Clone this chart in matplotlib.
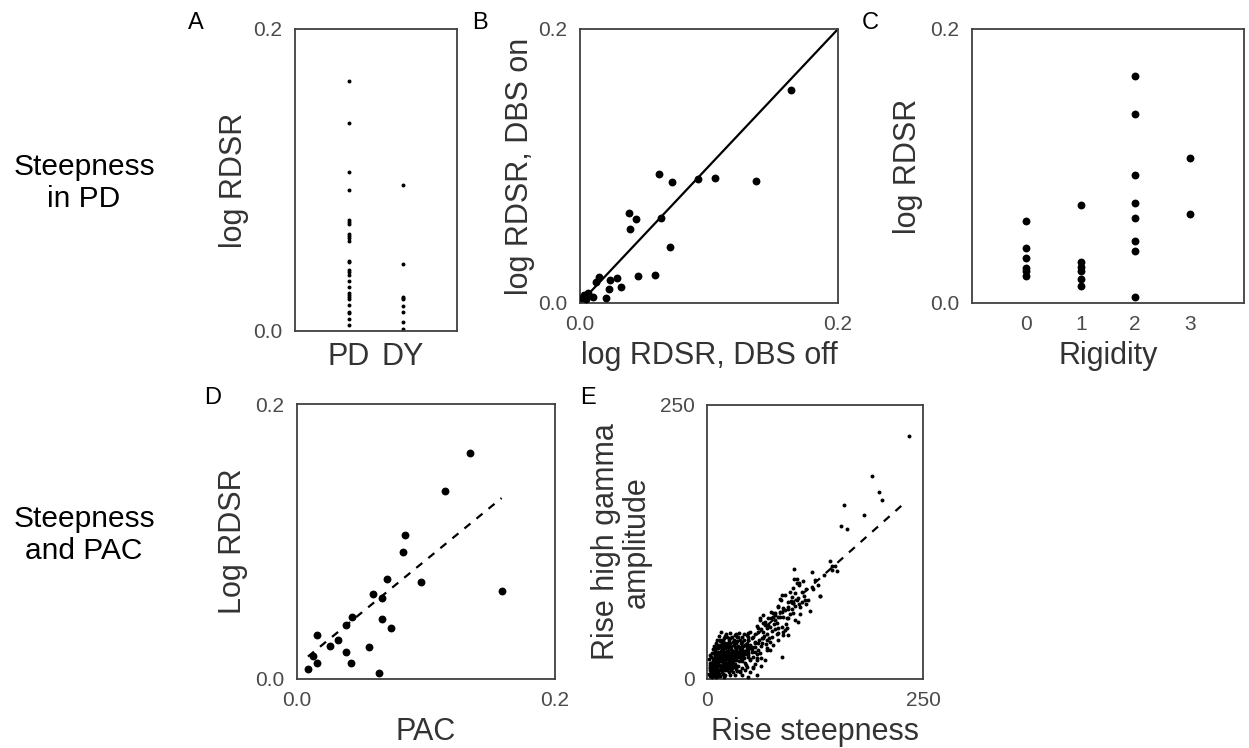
import numpy as np
import matplotlib.pyplot as plt

plt.rcParams['font.family'] = ['Liberation Sans', 'DejaVu Sans']

# ---- data ----
# A: log RDSR per group
a_pd = [0.1657, 0.1375, 0.1053, 0.0934, 0.0733, 0.0722, 0.0709, 0.0642, 0.0629,
        0.0614, 0.0598, 0.0464, 0.0457, 0.0404, 0.0389, 0.0371, 0.0331, 0.0291,
        0.0250, 0.0236, 0.0223, 0.0210, 0.0170, 0.0128, 0.0119, 0.0077, 0.0040]
a_dy = [0.0965, 0.0442, 0.0227, 0.0216, 0.0210, 0.0168, 0.0126, 0.0058, 0.0015]
a_groups = ['PD', 'DY']

# B: DBS off vs DBS on
b_off = [0.1638, 0.0613, 0.0717, 0.0918, 0.1050, 0.1366, 0.0378, 0.0437, 0.0391,
         0.0631, 0.0698, 0.0447, 0.0584, 0.0235, 0.0284, 0.0225, 0.0318, 0.0199,
         0.0147, 0.0122, 0.0103, 0.0064, 0.0033, 0.0015, 0.0045]
b_on = [0.1558, 0.0938, 0.0882, 0.0906, 0.0916, 0.0892, 0.0659, 0.0615, 0.0540,
        0.0617, 0.0407, 0.0197, 0.0207, 0.0168, 0.0182, 0.0100, 0.0115, 0.0034,
        0.0188, 0.0156, 0.0046, 0.0071, 0.0058, 0.0040, 0.0030]

# C: rigidity score vs log RDSR
c_rig = [0, 0, 0, 0, 0, 0,
         1, 1, 1, 1, 1, 1,
         2, 2, 2, 2, 2, 2, 2, 2,
         3, 3]
c_rdsr = [0.0601, 0.0404, 0.0326, 0.0258, 0.0233, 0.0200,
          0.0715, 0.0297, 0.0265, 0.0235, 0.0175, 0.0122,
          0.1657, 0.1379, 0.0933, 0.0733, 0.0621, 0.0456, 0.0380, 0.0046,
          0.1055, 0.0646]

# D: PAC vs log RDSR
d_pac = [0.1338, 0.1146, 0.0841, 0.0818, 0.0699, 0.0960, 0.1591, 0.0590, 0.0657,
         0.0427, 0.0378, 0.0660, 0.0732, 0.0155, 0.0321, 0.0259, 0.0556, 0.0380,
         0.0124, 0.0158, 0.0417, 0.0085, 0.0639]
d_rdsr = [0.1646, 0.1369, 0.1046, 0.0925, 0.0726, 0.0704, 0.0638, 0.0617, 0.0592,
          0.0449, 0.0396, 0.0439, 0.0374, 0.0318, 0.0286, 0.0243, 0.0231, 0.0194,
          0.0165, 0.0119, 0.0119, 0.0075, 0.0041]
d_fit_x = [0.0085, 0.1586]
d_fit_y = [0.0163, 0.1316]

# E: rise steepness vs rise high gamma amplitude
e_points = [
    (234, 222), (190.6, 185.2), (199, 170.6), (202.5, 163), (158.6, 158.8),
    (181.3, 149.3), (155, 139.9), (162, 136.9), (148, 103), (145, 99.5),
    (121.9, 97.6), (131, 75.7), (142.3, 107.3), (144.3, 103.3), (150, 98.8),
    (100.7, 100.6), (103.8, 90.9), (106.9, 87.3), (123, 82), (99.9, 82.7),
    (96, 79.6), (130.7, 75.7), (117.2, 72), (109.6, 70.5), (103.8, 72),
    (99.9, 69.6), (96.8, 71.1), (86.4, 76.6), (84.5, 72.7), (119.2, 62.3),
    (107.6, 65.4), (101.8, 66.6), (94.1, 65.4), (90.2, 62.9), (84.5, 61.4),
    (78.7, 59.8), (76.7, 56.8), (82.5, 56.8), (88.3, 56.3), (94.1, 55.4),
    (107.6, 59.3), (101.8, 53.8), (80.6, 50.8), (86.4, 47.7), (92.2, 46.2),
    (88.3, 43.1), (82.5, 41.6), (94.1, 40.1), (87, 19.8),
    (101, 91.2), (103.7, 87.9), (106.8, 85.7), (114.2, 81.8), (121.1, 84.2),
    (109.5, 79.6), (101.8, 78.7), (98, 75.2), (104.9, 73.5), (113.4, 72),
    (106.4, 68), (99.9, 69), (93.3, 70.5), (90.3, 76.6), (85.6, 72),
    (82.5, 66.6), (88.3, 64.4), (94.1, 63.5), (99.9, 59.9), (105.7, 52.3),
    (92.2, 55.3), (84.5, 56.8), (76.7, 59.9), (78.7, 53.8), (71, 55.3),
    (65.2, 58.4), (61.3, 53.8), (67.1, 49.3), (72.9, 47.7), (82.5, 46.2),
    (90.3, 44.7), (88.3, 40.1), (80.6, 41.1), (74.8, 38.6), (69.1, 35.6),
    (63.3, 37.1), (59.4, 32.5), (55.5, 34), (51.7, 29.5), (47.8, 35.6),
    (46, 40.1), (49.8, 43.2), (59.4, 43.2), (65.2, 43.2), (47.8, 26.4),
    (55.5, 24.9), (61.3, 23.4), (67.1, 17.3), (57.5, 17.3), (49.8, 17.3),
    (46, 11.2), (53.6, 9.7), (69.1, 28), (72.9, 26.4), (76.7, 31),
    (82.5, 35.6), (81.8, 65.4), (86.4, 61.4), (78.7, 58.4), (74, 55.4),
    (61.3, 55.4), (65.2, 50.8), (59.4, 46.2), (69.1, 46.2), (47.8, 41.6),
    (53.6, 38.6), (65.2, 37.1), (72.9, 34), (55.5, 32.5), (69.1, 26.4),
    (34.4, 38.6), (15, 35.6), (24.7, 31), (40.1, 34), (45.9, 29.5),
    (51.7, 24.9), (59.4, 26.4), (47.8, 20.3), (57.5, 18.8), (44, 14.3),
    (53.6, 11.2), (38.2, 6.7), (47.8, 2.1), (58, 4), (62, 12),
    (3, 3), (5, 6), (6, 2), (7, 9), (8, 4), (9, 12), (10, 7), (10, 2),
    (11, 15), (12, 10), (12, 5), (13, 18), (14, 13), (14, 8), (15, 3),
    (15, 21), (16, 16), (16, 11), (17, 6), (17, 24), (18, 19), (18, 14),
    (19, 9), (19, 27), (20, 22), (20, 17), (21, 12), (21, 4), (22, 25),
    (22, 20), (23, 15), (23, 30), (24, 10), (24, 23), (25, 18), (25, 6),
    (26, 28), (26, 13), (27, 21), (27, 33), (28, 16), (28, 8), (29, 26),
    (30, 19), (30, 11), (31, 31), (31, 24), (32, 14), (32, 4), (33, 28),
    (33, 21), (34, 17), (35, 35), (35, 25), (36, 12), (36, 30), (37, 20),
    (38, 27), (38, 7), (39, 33), (40, 23), (40, 16), (42, 30), (42, 20),
    (43, 36), (44, 26), (45, 13), (46, 32), (47, 22), (48, 38), (49, 28),
    (50, 18), (4, 10), (6, 14), (8, 17), (5, 20), (9, 22), (11, 25),
    (7, 27), (13, 28), (15, 31), (10, 33), (17, 34), (12, 36), (20, 37),
    (14, 39), (22, 41), (16, 43), (6, 7), (8, 11), (11, 9), (13, 14),
    (15, 12), (17, 16), (19, 13), (20, 20), (22, 18), (24, 22), (26, 20),
    (28, 24), (30, 22), (12, 20), (14, 24), (16, 26), (18, 22), (20, 30),
    (24, 26), (26, 32), (28, 30), (30, 34), (34, 33), (36, 38), (38, 36),
    (9, 5), (7, 3), (11, 3), (14, 5), (19, 5), (23, 8), (27, 4), (29, 10),
    (33, 9), (35, 7), (41, 10), (44, 8), (4, 4), (6, 5), (8, 7), (10, 10),
    (12, 13), (14, 16), (16, 19), (18, 17), (20, 14), (22, 11), (24, 15),
    (26, 17), (18, 11), (16, 8), (13, 7), (21, 8), (25, 10), (29, 14),
    (31, 17), (34, 22), (37, 24), (39, 19), (41, 27), (44, 31), (18, 28),
    (21, 33), (25, 36), (29, 38), (32, 40), (10, 18), (8, 24), (5, 15),
    (3, 8), (4, 13), (7, 19), (11, 29), (19, 32), (23, 38), (27, 42),
    # second pass over the dense core
    (2, 5), (3, 11), (5, 9), (6, 11), (7, 13), (7, 16), (9, 15), (9, 19),
    (10, 14), (10, 21), (11, 18), (12, 16), (12, 23), (13, 21), (13, 25),
    (14, 19), (14, 29), (15, 16), (15, 24), (16, 22), (16, 29), (17, 19),
    (17, 27), (18, 25), (18, 31), (19, 17), (19, 22), (20, 25), (20, 11),
    (21, 19), (21, 28), (22, 14), (22, 23), (23, 21), (23, 26), (24, 18),
    (24, 29), (25, 14), (25, 22), (25, 27), (26, 24), (27, 18), (27, 12),
    (28, 27), (28, 20), (29, 22), (29, 17), (30, 26), (30, 15), (31, 20),
    (31, 13), (32, 23), (32, 29), (33, 18), (33, 25), (34, 27), (34, 12),
    (35, 21), (36, 25), (37, 29), (37, 16), (38, 22), (39, 26), (40, 30),
    (41, 22), (42, 25), (43, 19), (44, 23), (46, 27), (48, 24), (50, 31),
    (52, 27), (53, 20), (55, 29), (56, 14), (58, 23), (60, 36), (62, 30),
    (64, 33), (66, 39), (68, 32), (70, 41), (72, 37), (75, 44), (77, 50),
    (79, 46), (62, 19), (40, 4), (50, 6), (30, 6), (20, 2), (13, 3),
    (3, 15), (2, 18), (4, 22), (6, 24), (8, 30), (10, 28), (9, 26),
    (12, 31), (15, 35), (18, 36), (21, 39), (24, 33), (27, 37), (31, 36),
    (33, 41), (37, 42), (40, 38), (43, 41), (52, 37), (56, 41), (58, 48),
    (63, 46), (67, 52), (71, 49), (74, 61), (96, 59), (112, 76), (115, 68),
    (125, 90), (128, 86), (135, 95), (111, 89), (92, 50), (98, 64),
]
e_steep = [p[0] for p in e_points]
e_gamma = [p[1] for p in e_points]
e_fit_x = [3, 228]
e_fit_y = [2.2, 160.2]

# ---- figure ----
W, H = 1249, 748
fig = plt.figure(figsize=(W / 100, H / 100), dpi=100)
txt = '#333333'
edge = '#404040'


def box(l, t, r, b):
    return fig.add_axes([l / W, 1 - b / H, (r - l) / W, (b - t) / H])


def style(ax):
    for s in ax.spines.values():
        s.set_color(edge)
        s.set_linewidth(1.3)
    ax.tick_params(length=0, labelsize=15, labelcolor='#4a4a4a', pad=9)


lab = dict(fontsize=22, color=txt)

# A
ax = box(295, 29, 457, 331)
ax.scatter([1] * len(a_pd), a_pd, s=8, c='k', lw=0)
ax.scatter([2] * len(a_dy), a_dy, s=8, c='k', lw=0)
ax.set_xlim(0, 3)
ax.set_ylim(0, 0.2)
ax.set_yticks([0, 0.2])
ax.set_yticklabels(['0.0', '0.2'])
ax.set_xticks([1, 2])
ax.set_xticklabels(a_groups)
style(ax)
ax.tick_params(axis='x', labelsize=22, labelcolor=txt, pad=8)
ax.set_ylabel('log RDSR', labelpad=3, **lab)

# B
ax = box(580, 29, 838, 303)
ax.plot([0, 0.2], [0, 0.2], color='k', lw=1.6)
ax.scatter(b_off, b_on, s=32, c='k', lw=0, zorder=3)
ax.set_xlim(0, 0.2)
ax.set_ylim(0, 0.2)
ax.set_xticks([0, 0.2])
ax.set_xticklabels(['0.0', '0.2'])
ax.set_yticks([0, 0.2])
ax.set_yticklabels(['0.0', '0.2'])
style(ax)
ax.set_xlabel('log RDSR, DBS off', labelpad=5, **lab)
ax.set_ylabel('log RDSR, DBS on', labelpad=2, **lab)

# C
ax = box(972, 29, 1244, 303)
ax.scatter(c_rig, c_rdsr, s=32, c='k', lw=0)
ax.set_xlim(-1, 4)
ax.set_ylim(0, 0.2)
ax.set_xticks([0, 1, 2, 3])
ax.set_yticks([0, 0.2])
ax.set_yticklabels(['0.0', '0.2'])
style(ax)
ax.set_xlabel('Rigidity', labelpad=5, **lab)
ax.set_ylabel('log RDSR', labelpad=5, **lab)

# D
ax = box(297, 404, 555, 679)
ax.plot(d_fit_x, d_fit_y, color='k', lw=1.6, dashes=[3.5, 3.5])
ax.scatter(d_pac, d_rdsr, s=32, c='k', lw=0, zorder=3)
ax.set_xlim(0, 0.2)
ax.set_ylim(0, 0.2)
ax.set_xticks([0, 0.2])
ax.set_xticklabels(['0.0', '0.2'])
ax.set_yticks([0, 0.2])
ax.set_yticklabels(['0.0', '0.2'])
style(ax)
ax.set_xlabel('PAC', labelpad=5, **lab)
ax.set_ylabel('Log RDSR', labelpad=5, **lab)

# E
ax = box(707, 405, 923, 679)
ax.plot(e_fit_x, e_fit_y, color='k', lw=1.6, dashes=[3.5, 3.5])
ax.scatter(e_steep, e_gamma, s=8, c='k', lw=0, zorder=3)
ax.set_xlim(0, 250)
ax.set_ylim(0, 250)
ax.set_xticks([0, 250])
ax.set_yticks([0, 250])
style(ax)
ax.set_xlabel('Rise steepness', labelpad=5, **lab)
ax.set_ylabel('Rise high gamma\namplitude', labelpad=6, linespacing=1.0, **lab)

# panel letters
for letter, x, y in [('A', 188, 12), ('B', 472, 12), ('C', 862, 12),
                     ('D', 204, 387), ('E', 580, 387)]:
    fig.text(x / W, 1 - y / H, letter, fontsize=17, color='k', va='top', ha='left')

# row labels
fig.text(84 / W, 1 - 183 / H, 'Steepness\nin PD', ha='center', va='center',
         fontsize=21.5, color='k', linespacing=1.15)
fig.text(84 / W, 1 - 535 / H, 'Steepness\nand PAC', ha='center', va='center',
         fontsize=21.5, color='k', linespacing=1.15)

fig.savefig('out.png', dpi=100, facecolor='white')
